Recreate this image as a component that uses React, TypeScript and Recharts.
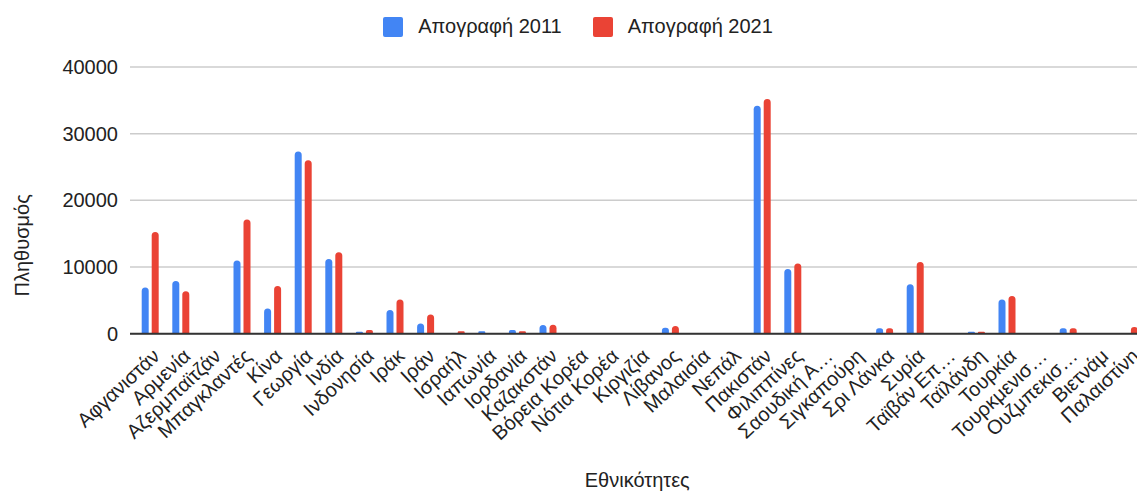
import React from "react";
import { BarChart, Bar, XAxis, YAxis, CartesianGrid, Legend, Label } from "recharts";

// Εθνικότητες και πληθυσμός ανά απογραφή
const countries = [
  "Αφγανιστάν", "Αρμενία", "Αζερμπαϊτζάν", "Μπαγκλαντές", "Κίνα", "Γεωργία",
  "Ινδία", "Ινδονησία", "Ιράκ", "Ιράν", "Ισραήλ", "Ιαπωνία", "Ιορδανία",
  "Καζακστάν", "Βόρεια Κορέα", "Νότια Κορέα", "Κιργιζία", "Λίβανος", "Μαλαισία",
  "Νεπάλ", "Πακιστάν", "Φιλιππίνες", "Σαουδική Α…", "Σιγκαπούρη", "Σρι Λάνκα",
  "Συρία", "Ταϊβάν Επ…", "Ταϊλάνδη", "Τουρκία", "Τουρκμενισ…", "Ουζμπεκισ…",
  "Βιετνάμ", "Παλαιστίνη",
];

const census2011 = [
  6930, 7920, 0, 10970, 3780, 27320, 11210, 300, 3570, 1530, 0, 350, 550,
  1300, 0, 0, 0, 900, 0, 0, 34200, 9720, 0, 0, 820, 7420, 0, 300, 5130, 0,
  800, 0, 0,
];

const census2021 = [
  15260, 6370, 0, 17120, 7170, 26010, 12220, 550, 5130, 2880, 350, 0, 350,
  1350, 0, 0, 0, 1150, 0, 0, 35200, 10520, 0, 0, 820, 10760, 0, 300, 5670, 0,
  800, 0, 1000,
];

const yTicks = [0, 10000, 20000, 30000, 40000];

const data = countries.map((name, i) => ({
  name,
  c2011: census2011[i],
  c2021: census2021[i],
}));

const FONT = "'Liberation Sans', Arial, sans-serif";
const TEXT = "#222";

function XTick({ x, y, payload }: any) {
  return (
    <text
      transform={`translate(${x + 11},${y + 24}) rotate(-43)`}
      textAnchor="end"
      fontFamily={FONT}
      fontSize={20}
      fill={TEXT}
    >
      {payload.value}
    </text>
  );
}

function YTitle({ viewBox }: any) {
  const cx = viewBox.x + 22;
  const cy = viewBox.y + viewBox.height / 2 + 45;
  return (
    <text
      transform={`translate(${cx},${cy}) rotate(-90)`}
      textAnchor="middle"
      dominantBaseline="central"
      fontFamily={FONT}
      fontSize={20}
      fill={TEXT}
    >
      Πληθυσμός
    </text>
  );
}

function LegendBox({ payload }: any) {
  return (
    <div
      style={{
        display: "flex",
        justifyContent: "center",
        gap: 31,
        fontFamily: FONT,
        fontSize: 20,
        color: TEXT,
        lineHeight: "23px",
      }}
    >
      {(payload || []).map((p: any) => (
        <span key={p.value} style={{ display: "flex", alignItems: "center" }}>
          <span
            style={{
              width: 20,
              height: 20,
              background: p.color,
              borderRadius: 2,
              marginRight: 15,
              display: "inline-block",
            }}
          />
          {p.value}
        </span>
      ))}
    </div>
  );
}

export default function App() {
  return (
    <div
      style={{
        position: "fixed",
        left: 0,
        top: 0,
        width: 1137,
        height: 491,
        overflow: "hidden",
        background: "#fff",
      }}
    >
      <BarChart
        width={1156}
        height={491}
        data={data}
        margin={{ top: 44, right: 11.5, left: 0, bottom: 0 }}
        barGap={3}
      >
        <CartesianGrid vertical={false} stroke="#ccc" strokeWidth={1.5} />
        <XAxis
          dataKey="name"
          interval={0}
          height={157.3}
          padding={{ left: 4.7, right: 0 }}
          tickLine={false}
          tickSize={0}
          tickMargin={0}
          axisLine={{ stroke: "#333", strokeWidth: 2 }}
          tick={<XTick />}
        >
          <Label
            value="Εθνικότητες"
            position="insideBottom"
            offset={4}
            fill={TEXT}
            fontSize={20}
            fontFamily={FONT}
          />
        </XAxis>
        <YAxis
          width={130}
          domain={[0, 40000]}
          ticks={yTicks}
          axisLine={false}
          tickLine={false}
          tickSize={0}
          tickMargin={12}
          tick={{ fill: TEXT, fontSize: 20, fontFamily: FONT }}
          label={<YTitle />}
        />
        <Legend
          verticalAlign="top"
          content={<LegendBox />}
          wrapperStyle={{ top: 15, left: 0, width: 1156 }}
        />
        <Bar
          dataKey="c2011"
          name="Απογραφή 2011"
          fill="#4285F4"
          barSize={7}
          radius={[3.5, 3.5, 0, 0]}
          isAnimationActive={false}
        />
        <Bar
          dataKey="c2021"
          name="Απογραφή 2021"
          fill="#EA4335"
          barSize={7}
          radius={[3.5, 3.5, 0, 0]}
          isAnimationActive={false}
        />
      </BarChart>
    </div>
  );
}
